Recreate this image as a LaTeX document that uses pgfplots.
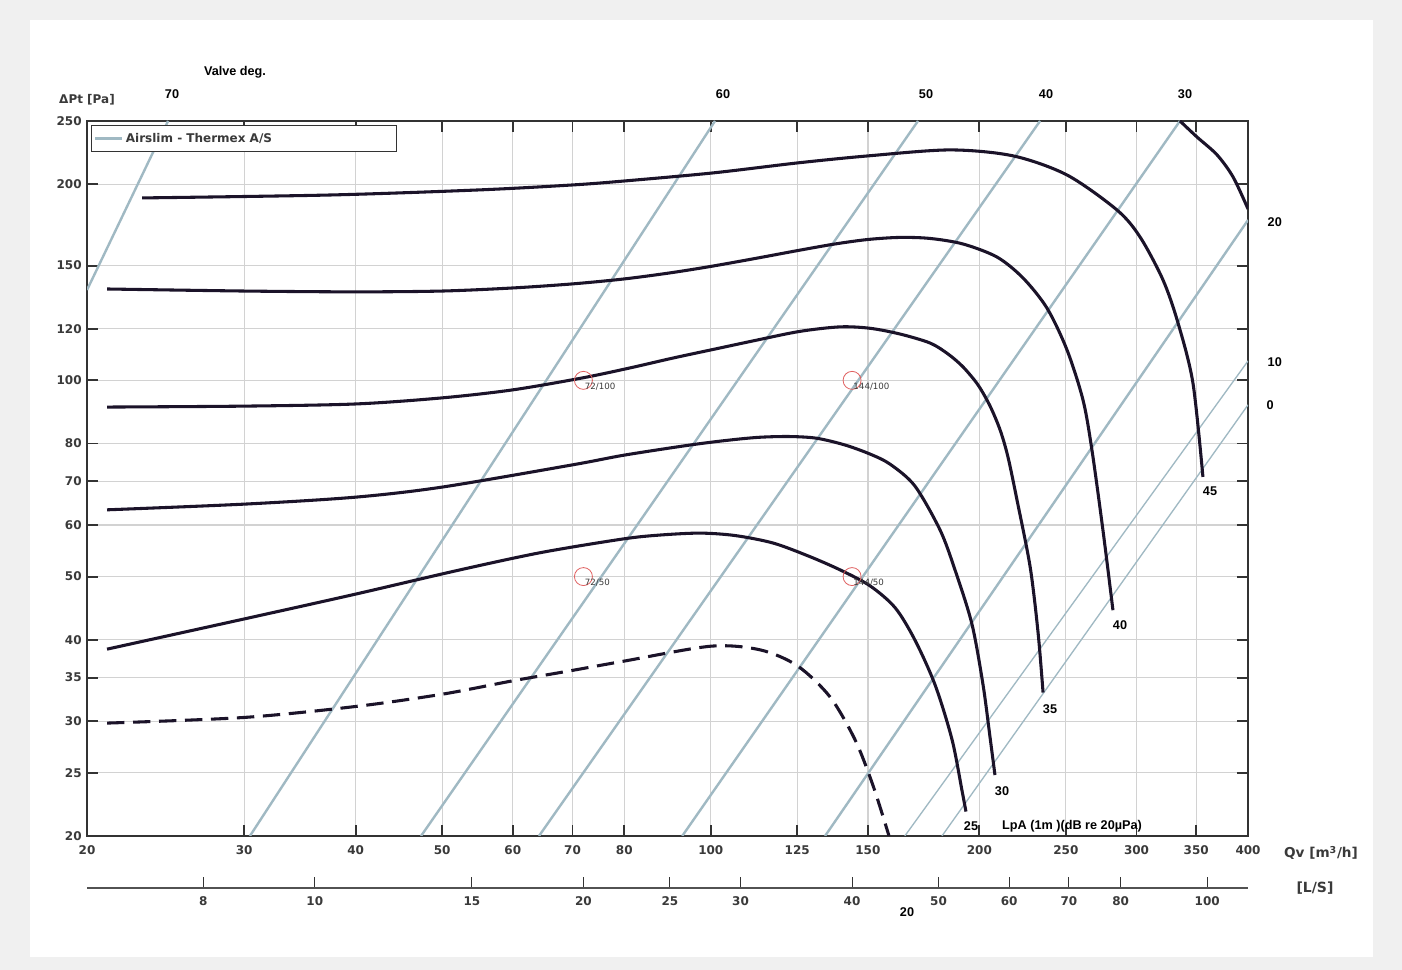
\documentclass[border=0pt]{standalone}
\usepackage{fontspec}
\setmainfont{DejaVu Sans}
\newfontfamily\arialfont{Liberation Sans}
\usepackage{graphicx}
\usepackage{pgfplots}
\pgfplotsset{compat=1.18}

\definecolor{fancurve}{HTML}{1B1329}
\definecolor{valveline}{HTML}{A0B9C3}
\definecolor{gridgray}{HTML}{D2D2D2}
\definecolor{axisgray}{HTML}{333333}
\definecolor{labelgray}{HTML}{3A3A3A}
\definecolor{pointred}{HTML}{E06060}
\definecolor{framegray}{HTML}{F0F0F0}

\newcommand{\tickfont}{\bfseries\fontsize{9}{10}\selectfont}
\newcommand{\annfont}{\arialfont\bfseries\fontsize{9.5}{11}\selectfont}

\pgfplotsset{lpa/.style={fancurve, line width=2.3pt, smooth}}

\begin{document}
\begin{tikzpicture}[x=0.75pt,y=0.75pt]
\fill[framegray] (0,0) rectangle (1402,970);
\fill[white] (30,13) rectangle (1373,950);

% main diagram: total pressure drop vs. air flow
\begin{axis}[
  at={(65.25pt,100.5pt)}, anchor=south west,
  scale only axis, width=870.75pt, height=536.25pt,
  xmode=log, ymode=log,
  xmin=20, xmax=400, ymin=20, ymax=250,
  xtick={20,30,40,50,60,70,80,100,125,150,200,250,300,350,400},
  xticklabels={20,30,40,50,60,70,80,100,125,150,200,250,300,350,400},
  ytick={20,25,30,35,40,50,60,70,80,100,120,150,200,250},
  yticklabels={20,25,30,35,40,50,60,70,80,100,120,150,200,250},
  xminorticks=false, yminorticks=false,
  grid=major,
  major grid style={gridgray, line width=0.9pt},
  axis line style={axisgray, line width=1.6pt},
  tick align=inside,
  major tick length=8.25pt,
  tick style={axisgray, line width=1.4pt},
  tick label style={font=\tickfont, text=labelgray},
  xticklabel style={yshift=-3.5pt},
  yticklabel style={xshift=-0.5pt},
  legend style={at={(0,1)}, anchor=north west, xshift=3pt, yshift=-3pt,
    draw=axisgray, line width=0.7pt, fill=white, inner xsep=2pt, inner ysep=3.6pt,
    font=\tickfont, text=labelgray},
  legend cell align=left,
  legend image code/.code={\draw[#1] (0pt,0pt) -- (20pt,0pt);},
]
% valve position lines
\addplot[valveline, line width=1.8pt] coordinates {(20,137.6) (24.65,250)};
\addlegendentry{Airslim - Thermex A/S\hspace*{89pt}}
\addplot[valveline, line width=1.8pt] coordinates {(30.45,20) (101.1,250)};
\addplot[valveline, line width=1.8pt] coordinates {(47.35,20) (170.7,250)};
\addplot[valveline, line width=1.8pt] coordinates {(64.2,20) (233.9,250)};
\addplot[valveline, line width=1.8pt] coordinates {(92.9,20) (335.6,250)};
\addplot[valveline, line width=1.8pt] coordinates {(134.3,20) (400,176.2)};
\addplot[valveline, line width=1.0pt] coordinates {(165.0,20) (400,107.1)};
\addplot[valveline, line width=1.0pt] coordinates {(181.6,20) (400,91.7)};

% sound level curves LpA
\addplot[lpa] coordinates {
 (23.05,190.5) (37.4,192.5) (55.1,196.0) (70.1,199.5) (80.2,202.3) (100.6,208.1)
 (125.2,215.6) (150.1,221.0) (185.4,225.7) (218.2,221.0) (250.7,206.6) (285.2,182.6)
 (302.7,166.0) (321.2,142.6) (333.9,122.5) (347.0,99.1) (356.1,71.1)};
\addplot[lpa] coordinates {
 (21.06,138.1) (30,137.1) (40,136.7) (50,137.1) (60,138.6) (70,140.6) (80,143.1)
 (90.05,146.2) (100.1,149.6) (112.1,153.8) (125.2,158.2) (137.8,161.9) (150.1,164.5)
 (162.9,165.7) (176.1,165.1) (191.7,161.9) (209.3,154.6) (223.8,143.6) (238.1,129.1)
 (250.7,111.4) (261.3,93.3) (267.4,78.2) (275.1,58.9) (282.3,44.4)};
\addplot[lpa] coordinates {
 (21.06,91.0) (30,91.3) (40,92.0) (50,94.0) (60,96.7) (71.9,100.9) (81.2,104.5)
 (90.7,108.2) (101.1,111.7) (112.7,115.3) (125.9,118.9) (139.6,120.8) (150.8,120.2)
 (162.9,117.8) (176.1,114.1) (184.4,109.8) (191.7,104.9) (199.3,98.4) (205.6,91.3)
 (211.0,83.9) (215.3,76.3) (220.4,65.5) (228.0,51.7) (232.7,41.0) (235.7,33.2)};
\addplot[lpa] coordinates {
 (21.06,63.3) (30.1,64.6) (40,66.2) (50,68.6) (70,74.2) (80,76.8)
 (94.8,79.6) (105.1,81.0) (113.6,81.8) (122.7,82.0) (131.5,81.5) (141.4,79.6)
 (150.8,77.1) (158.8,74.4) (169.3,68.9) (180.7,58.95) (187.8,51.2) (196.2,42.3)
 (201.9,34.1) (205.6,28.3) (208.2,24.8)};
\addplot[lpa] coordinates {
 (21.06,38.7) (30,43.05) (40,47.0) (51.7,51.0) (64.4,54.4) (79.7,57.1) (87.7,57.9)
 (97.3,58.3) (106.5,57.8) (117.4,56.3) (128.5,53.8) (139.6,51.2) (150.8,48.4)
 (160.9,44.8) (169.3,40.0) (178.4,34.1) (186.4,28.1) (191.2,23.5) (193.2,21.8)};
\addplot[lpa, dash pattern=on 13pt off 6.5pt] coordinates {
 (21.06,29.8) (30,30.4) (40,31.6) (50,33.0) (60,34.6) (70,35.9) (80,37.1)
 (100,39.1) (113.6,38.6) (125,36.5) (136.0,32.7) (145.1,28.1) (152.0,23.9)
 (158.4,20)};
\addplot[lpa] coordinates {
 (335.6,250) (350.6,236.3) (369.3,221.8) (384.9,205.1) (400,183.2)};

% reference operating points
\addplot[only marks, mark=o, mark size=6.75pt,
  mark options={draw=pointred, line width=0.6pt},
  nodes near coords, point meta=explicit symbolic,
  nodes near coords style={anchor=north west, inner sep=0pt, xshift=0.75pt, yshift=-1.5pt,
    font=\fontsize{6.5}{7}\selectfont, text=labelgray}]
  table[meta=lab] {
  x   y   lab
  72  100 72/100
  144 100 144/100
  72  50  72/50
  144 50  144/50
};
\end{axis}

% secondary flow scale in l/s
\begin{axis}[
  at={(65.25pt,61.5pt)}, anchor=south west,
  scale only axis, width=870.75pt, height=20pt,
  xmode=log, xmin=5.5556, xmax=111.111, ymin=0, ymax=1,
  hide y axis, axis x line*=bottom,
  x axis line style={-, draw=axisgray!85, line width=1.1pt},
  xtick={7.5,10,15,20,25,30,40,50,60,70,80,100},
  xticklabels={8,10,15,20,25,30,40,50,60,70,80,100},
  xminorticks=false,
  tick align=inside, major tick length=8.25pt,
  tick style={axisgray, line width=0.8pt},
  tick label style={font=\tickfont, text=labelgray},
  xticklabel style={yshift=-3pt},
]
\end{axis}

% annotations
\node[font=\annfont, text=black] at (235,898) {Valve deg.};
\node[font=\tickfont, text=labelgray] at (87,870) {ΔPt [Pa]};
\foreach \xx/\lab in {172/70, 723/60, 926/50, 1046/40, 1185/30}
  \node[font=\annfont, text=black] at (\xx,876) {\lab};
\node[font=\annfont, text=black, anchor=west] at (1263,748) {20};
\node[font=\annfont, text=black, anchor=west] at (1263,608) {10};
\node[font=\annfont, text=black, anchor=west] at (1262,565) {0};
\node[font=\annfont, text=black] at (1210,479) {45};
\node[font=\annfont, text=black] at (1120,345) {40};
\node[font=\annfont, text=black] at (1050,261) {35};
\node[font=\annfont, text=black] at (1002,179) {30};
\node[font=\annfont, text=black] at (971,144) {25};
\node[font=\annfont, text=black] at (1072,144) {LpA (1m )(dB re 20µPa)};
\node[font=\annfont, text=black] at (907,58) {20};
\node[font=\bfseries\fontsize{10.2}{11}\selectfont, text=labelgray] at (1321,117) {Qv [m\textsuperscript{3}/h]};
\node[font=\bfseries\fontsize{10.5}{11}\selectfont, text=labelgray] at (1315,82) {[L/S]};

\pgfresetboundingbox
\useasboundingbox (0,0) rectangle (1402,970);
\end{tikzpicture}
\end{document}
